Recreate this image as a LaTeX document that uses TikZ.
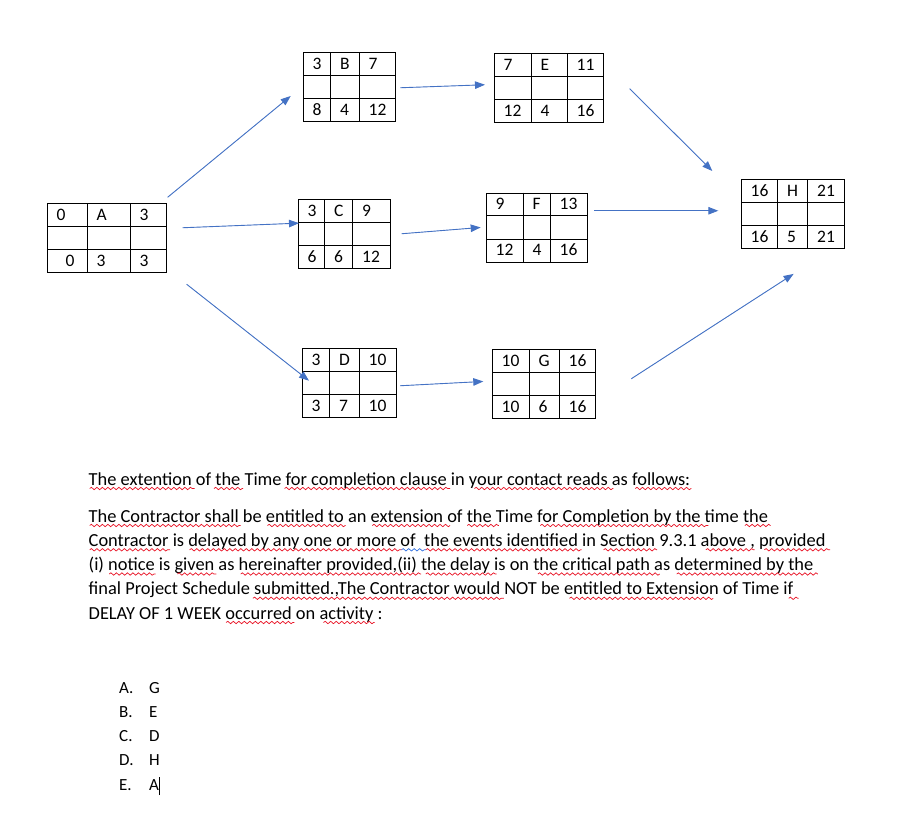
\documentclass[tikz,border=0pt]{standalone}
\usepackage{fontspec}
\setmainfont{Carlito}
\usetikzlibrary{arrows.meta, decorations.pathmorphing}
\definecolor{flowblue}{HTML}{4472C4}
\definecolor{spellred}{HTML}{E81123}
\definecolor{grammarblue}{HTML}{2F6FE0}

\begin{document}
\begin{tikzpicture}[x=1pt, y=-1pt, >={Triangle[length=10pt,width=7.5pt]},
  actbox/.style={draw, line width=0.9pt, anchor=north west, inner sep=0pt, minimum height=69pt},
  grid/.style={line width=0.9pt},
  cell/.style={anchor=west, inner sep=0pt, font=\fontsize{17.5}{21}\selectfont},
  flow/.style={->, draw=flowblue, fill=flowblue, line width=0.9pt},
  wave/.style={decorate, decoration={snake, amplitude=1.2pt, segment length=5.5pt}, line width=0.7pt}]
  \useasboundingbox (0,0) rectangle (911,836);

  \foreach \n/\x/\y/\wa/\wb/\wc/\ta/\tb/\tc/\ba/\bb/\bc in {
      A/47/203/40/43/36/0/A/3/{\hspace{9pt}0}/3/3,
      B/303/52/27.5/28.5/35.5/3/B/7/8/4/12,
      C/298/199/26.5/28/37/3/C/9/6/6/12,
      D/302/348/27.5/29.5/37/3/D/10/3/7/10,
      E/494/53/37/36/36/7/E/11/12/4/16,
      F/486/192.5/37/27/37/9/F/13/12/4/16,
      G/492/349/37/30/36/10/G/16/10/6/16,
      H/741/179/36.5/30/36/16/H/21/16/5/21} {
    \node[actbox, minimum width=\wa+\wb+\wc] (\n) at (\x,\y) {};
    \draw[grid] ([xshift=\wa]\n.north west) -- ([xshift=\wa]\n.south west);
    \draw[grid] ([xshift=\wa+\wb]\n.north west) -- ([xshift=\wa+\wb]\n.south west);
    \draw[grid] ([yshift=-23]\n.north west) -- ([yshift=-23]\n.north east);
    \draw[grid] ([yshift=23]\n.south west) -- ([yshift=23]\n.south east);
    \node[cell] (\n-es) at ([shift={(9.5,11.5)}]\n.north west) {\ta};
    \node[cell] (\n-id) at ([shift={(\wa+9.5,11.5)}]\n.north west) {\tb};
    \node[cell] (\n-ef) at ([shift={(\wa+\wb+9.5,11.5)}]\n.north west) {\tc};
    \node[cell] (\n-ls) at ([shift={(9.5,57.5)}]\n.north west) {\ba};
    \node[cell] (\n-du) at ([shift={(\wa+9.5,57.5)}]\n.north west) {\bb};
    \node[cell] (\n-lf) at ([shift={(\wa+\wb+9.5,57.5)}]\n.north west) {\bc};
  }

  \draw[flow] ([shift={(0.7,-5.7)}]A.north east) -- ([shift={(-12.3,44)}]B.north west);
  \draw[flow] ([shift={(15.7,-10.2)}]A.east) -- ([shift={(1,-10.8)}]C.west);
  \draw[flow] ([shift={(19.7,11.3)}]A.south east) -- ([shift={(7,32.7)}]D.north west);
  \draw[flow] ([shift={(5,0.8)}]B.east) -- ([shift={(-9,-3.2)}]E.west);
  \draw[flow] ([shift={(11.2,-0.2)}]C.east) -- ([shift={(-5.3,0)}]F.west);
  \draw[flow] ([shift={(3.3,2.8)}]D.east) -- ([shift={(-8.7,-2.5)}]G.west);
  \draw[flow] ([shift={(25.7,35.7)}]E.north east) -- ([shift={(-28.7,-8)}]H.north west);
  \draw[flow] ([shift={(6.3,-16.7)}]F.east) -- ([shift={(-22.7,-3.2)}]H.west);
  \draw[flow] ([shift={(35.4,-5.2)}]G.east) -- ([shift={(52.6,25)}]H.south west);

  \node[anchor=base west, inner sep=0pt, font=\fontsize{18.4}{24.25}\selectfont] (intro) at (88.5,485)
    {The extention of the Time for completion clause in your contact reads as follows:};
  \node[anchor=base west, inner sep=0pt, align=left, font=\fontsize{18.4}{24.25}\selectfont] (clause) at (88.5,619)
    {The Contractor shall be entitled to an extension of the Time for Completion by the time the\\
     Contractor is delayed by any one or more of\ \ the events identified in Section 9.3.1 above , provided\\
     (i) notice is given as hereinafter provided,(ii) the delay is on the critical path as determined by the\\
     final Project Schedule submitted.,The Contractor would NOT be entitled to Extension of Time if\\
     DELAY OF 1 WEEK occurred on activity :};
  \node[anchor=base west, inner sep=0pt, align=left, font=\fontsize{17}{24.2}\selectfont] (choices) at (119,790)
    {\makebox[30pt][l]{A.}G\\
     \makebox[30pt][l]{B.}E\\
     \makebox[30pt][l]{C.}D\\
     \makebox[30pt][l]{D.}H\\
     \makebox[30pt][l]{E.}A\rule[-5pt]{0.9pt}{18.3pt}};

  \foreach \xa/\xb/\yy in {89.7/194.5/488.5, 214/243.2/488.5, 284.6/450.2/488.5, 474.5/613.4/488.5, 635.3/691.3/488.5,
      89.7/240.7/525.5, 267.5/345.5/525.5, 372.3/450.2/525.5, 467.2/498.9/525.5, 540.3/708.4/525.5, 744.9/770.7/525.5,
      89.7/170.1/549.8, 189.6/401.5/549.8, 425.8/581.7/549.8, 603.6/657.2/549.8, 705.9/754.6/549.8, 764.4/830.1/549.8,
      109.2/155.5/574, 177.4/216.4/574, 240.7/421/574, 425.8/496.5/574, 537.9/659.6/574, 676.7/817.9/574,
      252.9/503.8/598.3, 569.5/713.2/598.3, 788.7/798.5/598.3,
      226.1/294.3/622.5, 323.5/374.7/622.5}
    \draw[wave, spellred] (\xa,\yy) -- (\xb,\yy);
  \draw[wave, grammarblue] (401.5,549.8) -- (425.8,549.8);
\end{tikzpicture}
\end{document}
